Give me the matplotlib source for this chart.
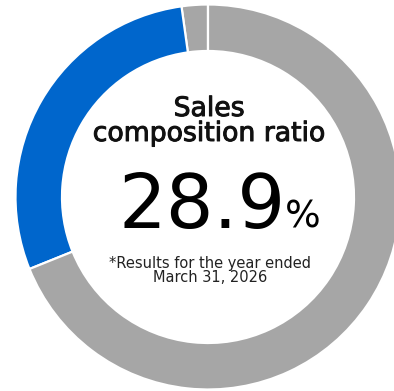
import matplotlib
matplotlib.use("Agg")
import matplotlib.pyplot as plt
import matplotlib.patheffects as pe

# Share of sales (percent), drawn counter-clockwise from 12 o'clock
segments = ["Other", "Target business", "Remaining"]
shares = [2.2, 28.9, 68.9]
colors = ["#A6A6A6", "#0066CC", "#A6A6A6"]

title_lines = ["Sales", "composition ratio"]
ratio_text = "28.9"
note_lines = ["*Results for the year ended", "March 31, 2026"]

W, H = 394, 391
fig = plt.figure(figsize=(W / 100, H / 100), dpi=100)
ax = fig.add_axes([0, 0, 1, 1])

cx, cy = 208, H - 197
R, ring = 192.5, 46.5

ax.pie(shares, colors=colors, startangle=90, counterclock=True,
       center=(cx, cy), radius=R, frame=True,
       wedgeprops=dict(width=ring, edgecolor="white", linewidth=1.6))
ax.set_xlim(0, W)
ax.set_ylim(0, H)
ax.set_aspect("equal")
ax.axis("off")

font = ["DejaVu Sans"]
heavy = [pe.withStroke(linewidth=0.7, foreground="#111111")]

def y(px):
    return H - px

ax.text(209, y(116), title_lines[0], ha="center", va="baseline",
        fontsize=19.2, family=font, color="#111111", path_effects=heavy)
ax.text(209, y(141), title_lines[1], ha="center", va="baseline",
        fontsize=19.2, family=font, color="#111111", path_effects=heavy)

ax.text(202, y(228), ratio_text, ha="center", va="baseline",
        fontsize=54, family=font, color="#000000")
ax.text(285, y(228), "%", ha="left", va="baseline",
        fontsize=27, family=font, color="#000000")

ax.text(210, y(282.5), "\n".join(note_lines), ha="center", va="baseline",
        multialignment="center", linespacing=0.95,
        fontsize=10.5, family=font, color="#222222")

fig.savefig("out.png", dpi=100, facecolor="white")
